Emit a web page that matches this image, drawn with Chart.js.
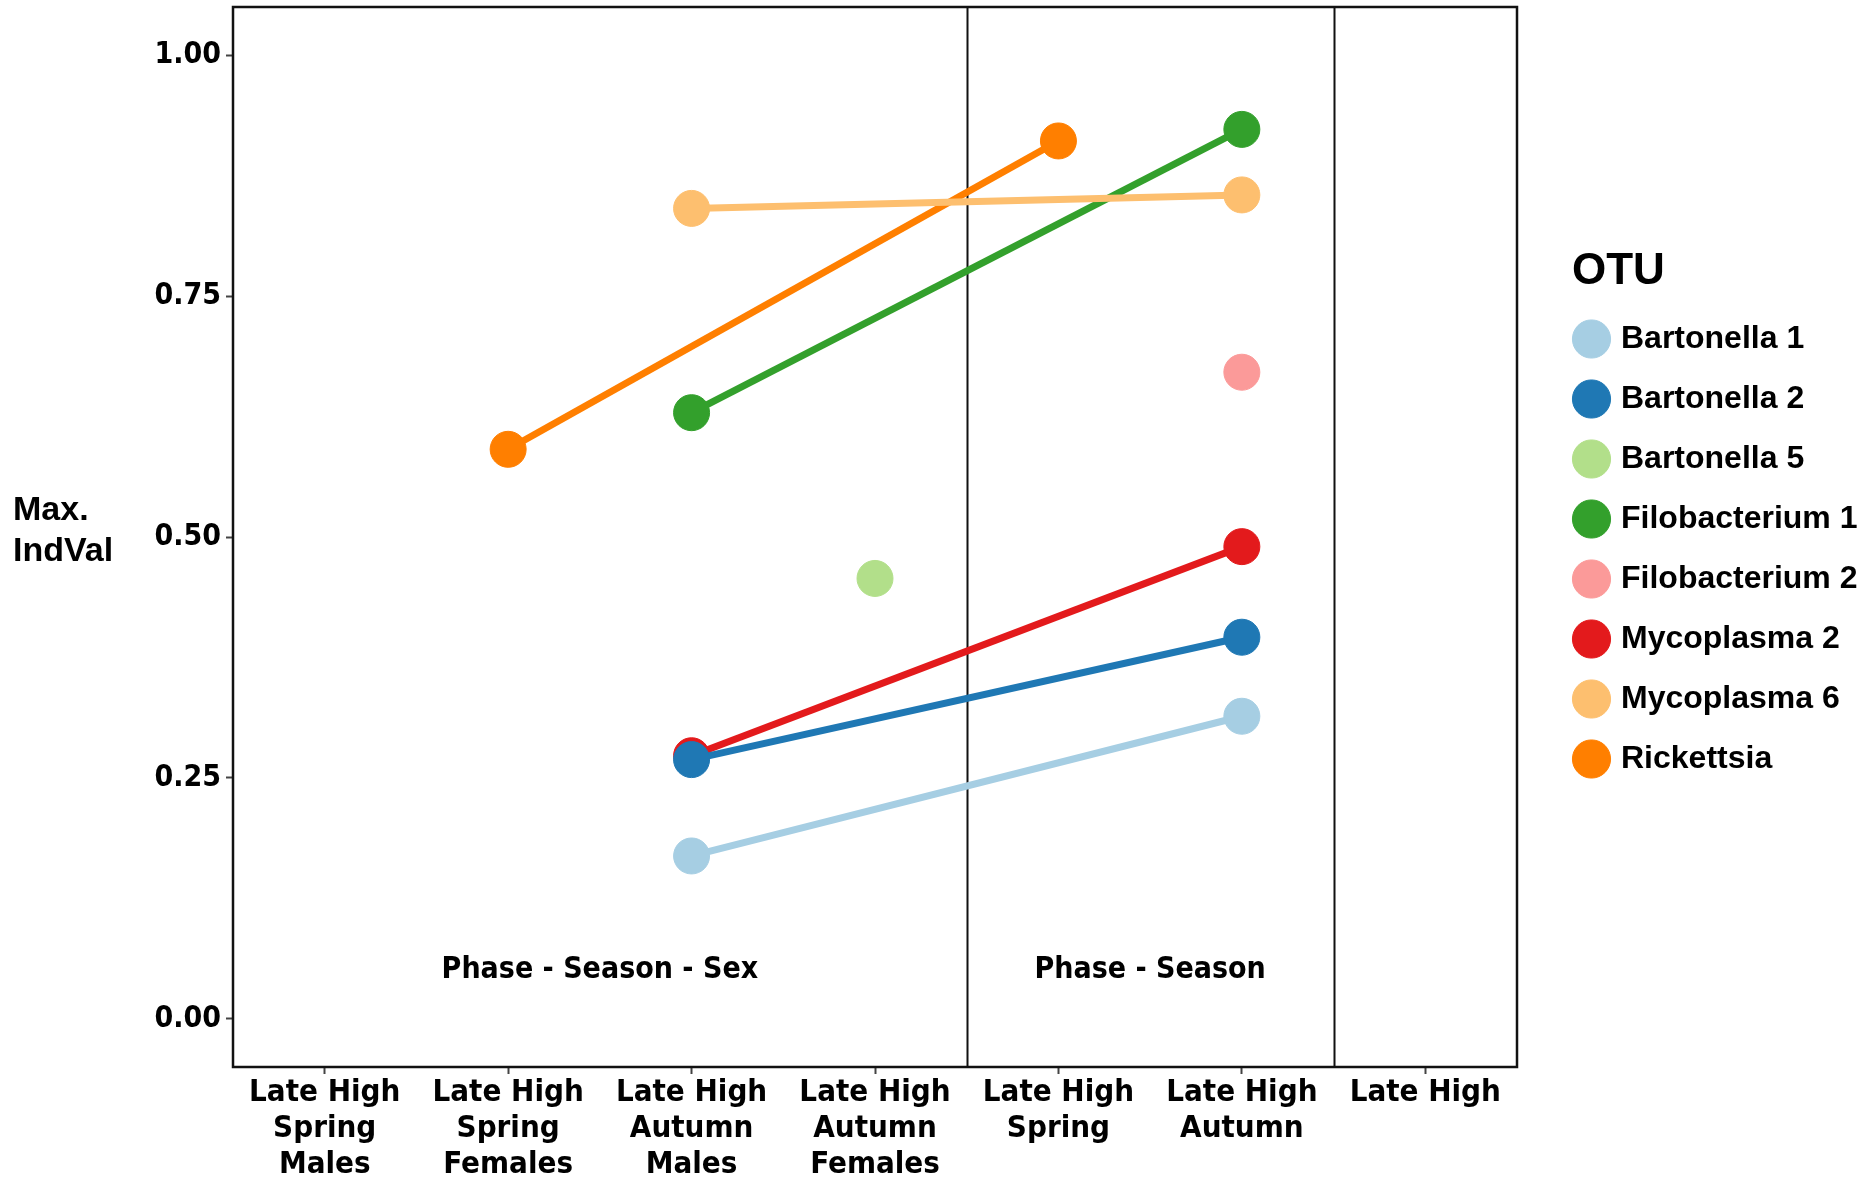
<!DOCTYPE html>
<html>
<head>
<meta charset="utf-8">
<script src="https://cdn.jsdelivr.net/npm/chart.js@4.4.1/dist/chart.umd.min.js"></script>
<style>
  html, body { margin: 0; padding: 0; background: #fff; }
  canvas { display: block; }
</style>
</head>
<body>
<canvas id="indval-chart" width="1873" height="1181"></canvas>
<script>
// Max. IndVal per OTU across the grouping levels (null = OTU not indicative there).
const groups = [
  ["Late High", "Spring", "Males"],
  ["Late High", "Spring", "Females"],
  ["Late High", "Autumn", "Males"],
  ["Late High", "Autumn", "Females"],
  ["Late High", "Spring"],
  ["Late High", "Autumn"],
  ["Late High"],
];

const bartonella1 = [null, null, 0.169, null, null, 0.314, null];
const bartonella2 = [null, null, 0.269, null, null, 0.396, null];
const bartonella5 = [null, null, null, 0.457, null, null, null];
const filobacterium1 = [null, null, 0.629, null, null, 0.923, null];
const filobacterium2 = [null, null, null, null, null, 0.671, null];
const mycoplasma2 = [null, null, 0.273, null, null, 0.490, null];
const mycoplasma6 = [null, null, 0.841, null, null, 0.855, null];
const rickettsia = [null, 0.591, null, null, 0.911, null, null];

const otuNames = ["Bartonella 1", "Bartonella 2", "Bartonella 5", "Filobacterium 1",
  "Filobacterium 2", "Mycoplasma 2", "Mycoplasma 6", "Rickettsia"];
const otuValues = [bartonella1, bartonella2, bartonella5, filobacterium1,
  filobacterium2, mycoplasma2, mycoplasma6, rickettsia];
const otuColors = ["#a6cee3", "#1f78b4", "#b2df8a", "#33a02c",
  "#fb9a99", "#e31a1c", "#fdbf6f", "#ff7f00"];

const yTicks = [0, 0.25, 0.5, 0.75, 1.0];

// section dividers sit between the category bands; labels centred on their bands
const sectionBreaks = [3.5, 5.5];
const sectionLabels = ["Phase - Season - Sex", "Phase - Season"];
const sectionCenters = [1.5, 4.5];
const sectionLabelY = 0.05;

const NARROW = "'DejaVu Sans Condensed', 'Liberation Sans Narrow', sans-serif";
const WIDE = "'Liberation Sans', Arial, sans-serif";

const panelDecor = {
  id: "panelDecor",
  beforeDatasetsDraw(chart) {
    const { ctx, chartArea, scales } = chart;
    ctx.save();
    ctx.strokeStyle = "#111";
    ctx.lineWidth = 2;
    sectionBreaks.forEach((b) => {
      const x = Math.round(scales.x.getPixelForValue(b)) + 0.5;
      ctx.beginPath();
      ctx.moveTo(x, chartArea.top);
      ctx.lineTo(x, chartArea.bottom);
      ctx.stroke();
    });
    ctx.fillStyle = "#000";
    ctx.font = "bold 30px " + NARROW;
    ctx.textAlign = "center";
    ctx.textBaseline = "middle";
    sectionLabels.forEach((label, i) => {
      ctx.fillText(label, scales.x.getPixelForValue(sectionCenters[i]), scales.y.getPixelForValue(sectionLabelY));
    });
    ctx.restore();
  },
  afterDraw(chart) {
    const { ctx, chartArea } = chart;
    ctx.save();
    ctx.strokeStyle = "#111";
    ctx.lineWidth = 2.5;
    ctx.strokeRect(chartArea.left, chartArea.top, chartArea.right - chartArea.left, chartArea.bottom - chartArea.top);
    // horizontal y-axis title, ggplot style
    const cy = (chartArea.top + chartArea.bottom) / 2;
    ctx.fillStyle = "#000";
    ctx.font = "bold 34px " + WIDE;
    ctx.textAlign = "left";
    ctx.textBaseline = "middle";
    ctx.fillText("Max.", 13, cy - 26);
    ctx.fillText("IndVal", 13, cy + 15);
    ctx.restore();
  },
};

new Chart(document.getElementById("indval-chart"), {
  type: "line",
  data: {
    labels: groups,
    datasets: otuNames.map((name, i) => ({
      label: name,
      data: otuValues[i],
      borderColor: otuColors[i],
      backgroundColor: otuColors[i],
      pointBackgroundColor: otuColors[i],
      pointBorderColor: otuColors[i],
      pointBorderWidth: 1,
      borderWidth: 7,
      pointRadius: 18,
      pointHoverRadius: 18,
      spanGaps: true,
      order: name === "Mycoplasma 6" ? -1 : 0,
    })),
  },
  options: {
    responsive: false,
    animation: false,
    layout: { autoPadding: false, padding: { top: 7, right: 13, bottom: 0, left: 0 } },
    plugins: {
      tooltip: { enabled: false },
      legend: {
        position: "right",
        align: "start",
        labels: {
          usePointStyle: true,
          pointStyle: "circle",
          boxWidth: 27,
          boxHeight: 27,
          padding: 28,
          color: "#000",
          font: { family: WIDE, size: 32, weight: "bold" },
          sort: (a, b) => a.datasetIndex - b.datasetIndex,
        },
        title: {
          display: true,
          position: "start",
          text: "\u2002OTU",
          color: "#000",
          font: { family: WIDE, size: 44, weight: "bold", lineHeight: 1.0 },
          padding: { top: 243, bottom: 1 },
        },
      },
    },
    scales: {
      x: {
        type: "category",
        offset: true,
        afterFit: (axis) => { axis.height = 114; axis.paddingLeft = 0; axis.paddingRight = 0; },
        border: { display: false },
        grid: { drawOnChartArea: false, drawTicks: true, tickLength: 7, tickWidth: 2, tickColor: "#444", offset: false },
        ticks: {
          autoSkip: false,
          maxRotation: 0,
          minRotation: 0,
          padding: 1,
          color: "#000",
          font: { family: NARROW, size: 31, weight: "bold", lineHeight: 1.16 },
        },
      },
      y: {
        min: -0.05,
        max: 1.05,
        afterFit: (axis) => { axis.width = 233; axis.paddingTop = 0; axis.paddingBottom = 0; },
        afterBuildTicks: (axis) => { axis.ticks = yTicks.map((v) => ({ value: v })); },
        border: { display: false },
        grid: { drawOnChartArea: false, drawTicks: true, tickLength: 7, tickWidth: 2, tickColor: "#444" },
        ticks: {
          padding: 5,
          color: "#000",
          font: { family: NARROW, size: 30, weight: "bold" },
          callback: (v) => Number(v).toFixed(2),
        },
      },
      gap: {
        // empty spacer between the panel and the legend
        position: "right",
        display: true,
        afterFit: (axis) => { axis.width = 33; axis.paddingTop = 0; axis.paddingBottom = 0; },
        border: { display: false },
        grid: { display: false },
        ticks: { display: false },
      },
    },
  },
  plugins: [panelDecor],
});
</script>
</body>
</html>
